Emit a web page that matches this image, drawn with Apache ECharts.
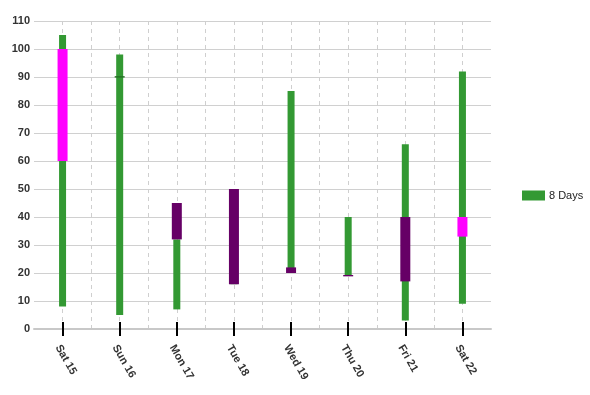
<!DOCTYPE html>
<html>
<head>
<meta charset="utf-8">
<script src="https://cdn.jsdelivr.net/npm/echarts@6/dist/echarts.min.js"></script>
<style>html,body{margin:0;padding:0;background:#fff}#c{width:590px;height:395px}</style>
</head>
<body>
<div id="c"></div>
<script>
const categories = ['Sat 15', 'Sun 16', 'Mon 17', 'Tue 18', 'Wed 19', 'Thu 20', 'Fri 21', 'Sat 22'];
const rangeLow  = [8, 5, 7, 16, 20, 19, 3, 9];
const rangeHigh = [105, 98, 32, 50, 85, 40, 66, 92];
const boxLow    = [60, 89.8, 32, 16, 20, 18.8, 17, 33];
const boxHigh   = [100, 90.3, 45, 50, 22, 19.3, 40, 40];
const boxKind   = ['up', 'flat', 'down', 'down', 'down', 'down', 'down', 'up'];
const yTicks = { min: 0, max: 110, interval: 10 };
const seriesName = '8 Days';

const kindColor = { up: '#ff00ff', down: '#660066', flat: '#256f25' };
const green = '#339933';

const chart = echarts.init(document.getElementById('c'));
const labelFont = { fontFamily: 'Arial, "Liberation Sans", sans-serif', fontSize: 11, fontWeight: 'bold', color: '#333' };

chart.setOption({
  animation: false,
  grid: { left: 34, right: 99, top: 21, bottom: 66 },
  legend: {
    data: [seriesName], left: 522, top: 190, orient: 'vertical', padding: 0,
    icon: 'rect', itemWidth: 23, itemHeight: 10, itemGap: 4,
    textStyle: { fontFamily: 'Arial, "Liberation Sans", sans-serif', fontSize: 11, color: '#222', padding: [0, 0, 0, -1] }
  },
  xAxis: [
    {
      type: 'category', data: categories, position: 'bottom',
      axisLine: { show: true, onZero: false, lineStyle: { color: '#c8c8c8', width: 2 } },
      axisTick: { show: true, interval: 0, alignWithLabel: true, length: 7, lineStyle: { color: '#000', width: 2 } },
      axisLabel: Object.assign({ rotate: -60, margin: 14, interval: 0, verticalAlign: 'top', align: 'left' }, labelFont),
      splitLine: { show: false }
    },
    {
      type: 'category', data: categories, position: 'bottom',
      axisLine: { show: false, onZero: false },
      axisTick: { show: true, interval: 0, alignWithLabel: true, inside: true, length: 7, lineStyle: { color: '#000', width: 2 } },
      axisLabel: { show: false },
      splitLine: { show: false }
    },
    {
      type: 'value', min: 0, max: categories.length * 2, interval: 1, position: 'bottom',
      axisLine: { show: false, onZero: false }, axisTick: { show: false }, axisLabel: { show: false },
      splitLine: { show: true, showMinLine: false, showMaxLine: false, lineStyle: { color: '#cfcfcf', type: [4, 4], width: 1 } }
    }
  ],
  yAxis: {
    type: 'value', min: yTicks.min, max: yTicks.max, interval: yTicks.interval,
    axisLine: { show: false }, axisTick: { show: false },
    axisLabel: Object.assign({ margin: 4 }, labelFont),
    splitLine: { lineStyle: { color: '#d0d0d0', width: 1 } }
  },
  series: [
    { type: 'bar', name: 'rangeBase', xAxisIndex: 0, stack: 'g', barWidth: 7, silent: true,
      itemStyle: { color: 'transparent' }, data: rangeLow },
    { type: 'bar', name: seriesName, xAxisIndex: 0, stack: 'g', barWidth: 7,
      itemStyle: { color: green },
      data: rangeHigh.map((h, i) => h - rangeLow[i]) },
    { type: 'bar', name: 'boxBase', xAxisIndex: 1, stack: 'b', barWidth: 10, silent: true,
      itemStyle: { color: 'transparent' }, data: boxLow },
    { type: 'bar', name: 'box', xAxisIndex: 1, stack: 'b', barWidth: 10,
      data: boxHigh.map((h, i) => ({ value: h - boxLow[i], itemStyle: { color: kindColor[boxKind[i]] } })) }
  ]
});
</script>
</body>
</html>
